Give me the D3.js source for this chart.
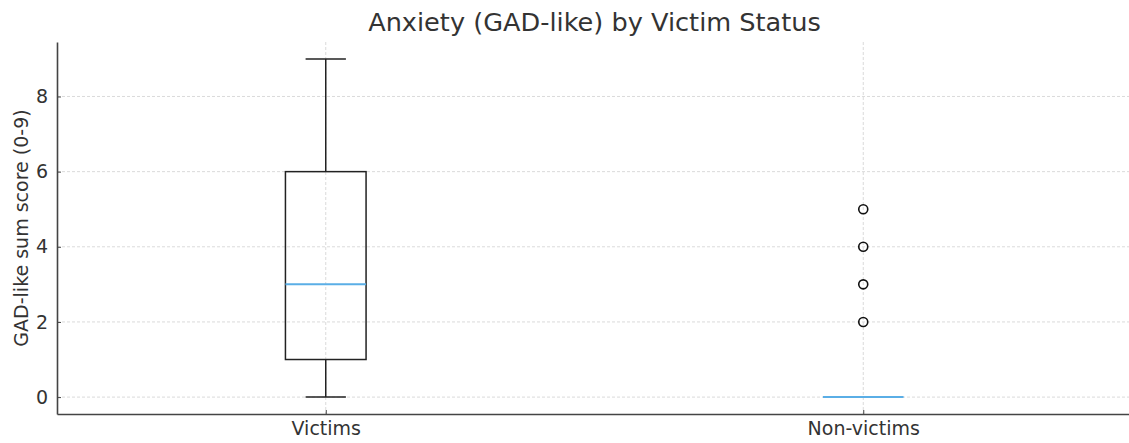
<!DOCTYPE html>
<html>
<head>
<meta charset="utf-8">
<script src="https://cdn.jsdelivr.net/npm/d3@7"></script>
<style>
  body { margin: 0; background: #fff; }
  svg { font-family: "DejaVu Sans", sans-serif; }
</style>
</head>
<body>
<div id="chart-area"></div>
<script>
// data
const categories = ["Victims", "Non-victims"]
const whiskerLow = [0, 0]
const q1 = [1, 0]
const median = [3, 0]
const q3 = [6, 0]
const whiskerHigh = [9, 0]
const outliers = [[], [2, 3, 4, 5]]
const yTicks = [0, 2, 4, 6, 8]

const W = 1129, H = 443
const MARGIN = { LEFT: 57, RIGHT: -3, TOP: 42, BOTTOM: 29 }
const WIDTH = W - MARGIN.LEFT - MARGIN.RIGHT
const HEIGHT = H - MARGIN.TOP - MARGIN.BOTTOM

const svg = d3.select("#chart-area").append("svg")
  .attr("width", W)
  .attr("height", H)

const g = svg.append("g")
  .attr("transform", `translate(${MARGIN.LEFT}, ${MARGIN.TOP})`)

// scales (positions 1..n like matplotlib)
const x = d3.scaleLinear().domain([0.5, categories.length + 0.5]).range([0, WIDTH])
const y = d3.scaleLinear().domain([-0.45, 9.45]).range([HEIGHT, 0])

const boxW = x(1.15) - x(1)
const capW = boxW / 2

// grid
g.append("g").selectAll("line").data(yTicks).join("line")
  .attr("x1", 0).attr("x2", WIDTH)
  .attr("y1", d => y(d)).attr("y2", d => y(d))
  .attr("stroke", "#d0d0d0").attr("stroke-width", 0.8)
  .attr("stroke-dasharray", "3,2")
g.append("g").selectAll("line").data(categories).join("line")
  .attr("x1", (d, i) => x(i + 1)).attr("x2", (d, i) => x(i + 1))
  .attr("y1", 0).attr("y2", HEIGHT)
  .attr("stroke", "#d0d0d0").attr("stroke-width", 0.8)
  .attr("stroke-dasharray", "3,2")

// axes (ticks point inward)
const xAxis = g.append("g")
  .attr("transform", `translate(0, ${HEIGHT})`)
  .call(d3.axisBottom(x).tickValues(categories.map((d, i) => i + 1))
    .tickFormat((d, i) => categories[i]).tickSize(-4).tickSizeOuter(0).tickPadding(8))
const yAxis = g.append("g")
  .call(d3.axisLeft(y).tickValues(yTicks).tickSize(-4).tickSizeOuter(0).tickPadding(9))

;[xAxis, yAxis].forEach(a => {
  a.select(".domain").attr("stroke", "#444").attr("stroke-width", 1.6)
  a.selectAll(".tick line").attr("stroke", "#444").attr("stroke-width", 1)
  a.selectAll(".tick text").attr("fill", "#333").style("font-size", "19px")
    .style("font-family", "DejaVu Sans, sans-serif")
})

// boxes
const boxes = g.append("g").selectAll("g").data(categories).join("g")
boxes.each(function (d, i) {
  const b = d3.select(this)
  const cx = x(i + 1)
  const stroke = "#222"
  // whiskers
  b.append("line").attr("x1", cx).attr("x2", cx)
    .attr("y1", y(q1[i])).attr("y2", y(whiskerLow[i]))
    .attr("stroke", stroke).attr("stroke-width", 1.5)
  b.append("line").attr("x1", cx).attr("x2", cx)
    .attr("y1", y(q3[i])).attr("y2", y(whiskerHigh[i]))
    .attr("stroke", stroke).attr("stroke-width", 1.5)
  // caps
  ;[whiskerLow[i], whiskerHigh[i]].forEach(v => {
    b.append("line").attr("x1", cx - capW / 2).attr("x2", cx + capW / 2)
      .attr("y1", y(v)).attr("y2", y(v))
      .attr("stroke", stroke).attr("stroke-width", 1.5)
  })
  // box
  b.append("rect")
    .attr("x", cx - boxW / 2).attr("width", boxW)
    .attr("y", y(q3[i])).attr("height", y(q1[i]) - y(q3[i]))
    .attr("fill", "none").attr("stroke", stroke).attr("stroke-width", 1.5)
  // median
  b.append("line").attr("x1", cx - boxW / 2).attr("x2", cx + boxW / 2)
    .attr("y1", y(median[i])).attr("y2", y(median[i]))
    .attr("stroke", "#5aaee6").attr("stroke-width", 2)
  // fliers
  b.selectAll("circle").data(outliers[i]).join("circle")
    .attr("cx", cx).attr("cy", v => y(v)).attr("r", 4.5)
    .attr("fill", "none").attr("stroke", "#111").attr("stroke-width", 1.6)
})

// title
svg.append("text")
  .attr("x", MARGIN.LEFT + WIDTH / 2).attr("y", 31)
  .attr("text-anchor", "middle")
  .attr("fill", "#333").style("font-size", "25.6px")
  .text("Anxiety (GAD-like) by Victim Status")

// y label
svg.append("text")
  .attr("transform", `translate(28, ${MARGIN.TOP + HEIGHT / 2}) rotate(-90)`)
  .attr("text-anchor", "middle")
  .attr("fill", "#333").style("font-size", "19px")
  .text("GAD-like sum score (0-9)")
</script>
</body>
</html>
